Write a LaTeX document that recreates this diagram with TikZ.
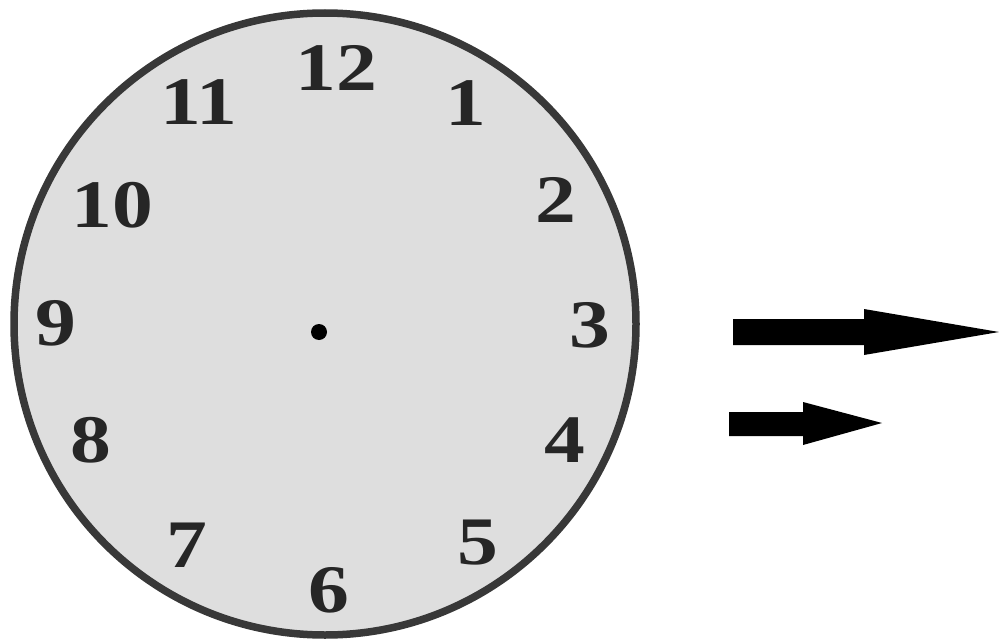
\documentclass[tikz,border=0pt]{standalone}
\usepackage{fontspec}
\setmainfont{Liberation Serif}
\begin{document}
\begin{tikzpicture}[x=1pt,y=-1pt,
  num/.style={font=\fontsize{68}{68}\selectfont\bfseries, text=black!85, inner sep=0pt, xscale=1.2},
  arrowshape/.style={fill=black}]
\useasboundingbox (0,0) rectangle (999,642);
\fill[white] (0,0) rectangle (999,642);
% clock face
\draw[line width=7.5pt, draw=black!78, fill=black!13] (325,324) circle[radius=311];
\node[circle, fill=black, inner sep=0pt, minimum size=16pt] (hub) at (319,332) {};
% numerals
\node[num] (n12) at (336,68) {12};
\node[num] (n1) at (466,103) {1};
\node[num] (n2) at (556,200) {2};
\node[num] (n3) at (590,325) {3};
\node[num] (n4) at (565,440) {4};
\node[num] (n5) at (478,543) {5};
\node[num] (n6) at (329,590) {6};
\node[num] (n7) at (187,545) {7};
\node[num] (n8) at (91,440) {8};
\node[num] (n9) at (56,323) {9};
\node[num] (n10) at (112,205) {10};
\node[num] (n11) at (199,102) {11};
% arrows
\fill[arrowshape] (733,319) -- (864,319) -- (864,309) -- (999,332) -- (864,355) -- (864,345) -- (733,345) -- cycle;
\fill[arrowshape] (729,412) -- (803,412) -- (803,402) -- (882,423) -- (803,445) -- (803,436) -- (729,436) -- cycle;
\end{tikzpicture}
\end{document}
